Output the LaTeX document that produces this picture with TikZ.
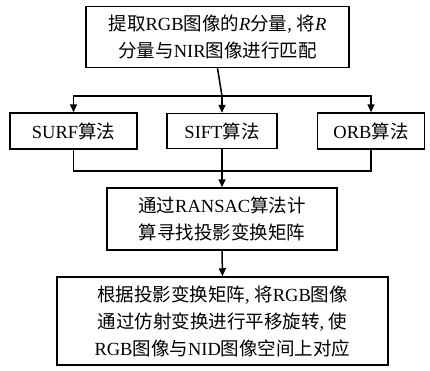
\documentclass[tikz,border=0pt]{standalone}
\usepackage{fontspec}
\setmainfont{Liberation Serif}
\newfontfamily\cjk{Noto Sans CJK SC}
\usetikzlibrary{arrows.meta}
\newcommand\zh[1]{{\cjk #1}}
\begin{document}
\begin{tikzpicture}[x=1pt,y=-1pt,
  box/.style={draw, line width=1.5pt, align=center, inner sep=0pt,
    font=\fontsize{18.5}{27}\selectfont},
  conn/.style={line width=1.5pt},
  arr/.style={conn, -{Triangle[length=8pt,width=7pt]}}]
\useasboundingbox[fill=white] (0,0) rectangle (430,370);
\node[box, minimum width=263pt, minimum height=61pt] (top) at (217.5,37)
  {\zh{提取}RGB\zh{图像的}\textit{R}\zh{分量}, \zh{将}\textit{R}\\\zh{分量与}NIR\zh{图像进行匹配}};
\node[box, minimum width=127pt, minimum height=36pt] (surf) at (73.5,131) {SURF\zh{算法}};
\node[box, minimum width=110pt, minimum height=35pt] (sift) at (222,131) {SIFT\zh{算法}};
\node[box, minimum width=107pt, minimum height=36pt] (orb) at (371,131) {ORB\zh{算法}};
\node[box, minimum width=230pt, minimum height=62pt] (ransac) at (222,219)
  {\zh{通过}RANSAC\zh{算法计}\\\zh{算寻找投影变换矩阵}};
\node[box, minimum width=331pt, minimum height=88pt] (final) at (222.5,321)
  {\zh{根据投影变换矩阵}, \zh{将}RGB\zh{图像}\\\zh{通过仿射变换进行平移旋转}, \zh{使}\\RGB\zh{图像与}NID\zh{图像空间上对应}};
\coordinate (split) at (222,96);
\coordinate (merge) at (222,171);
\draw[conn] (top.south) -- (split);
\draw[arr] (split) -| (surf.north);
\draw[arr] (split) -- (sift.north);
\draw[arr] (split) -| (orb.north);
\draw[conn] (surf.south) |- (merge);
\draw[conn] (orb.south) |- (merge);
\draw[arr] (sift.south) -- (ransac.north);
\draw[arr] (ransac.south) -- (final.north);
\end{tikzpicture}
\end{document}
